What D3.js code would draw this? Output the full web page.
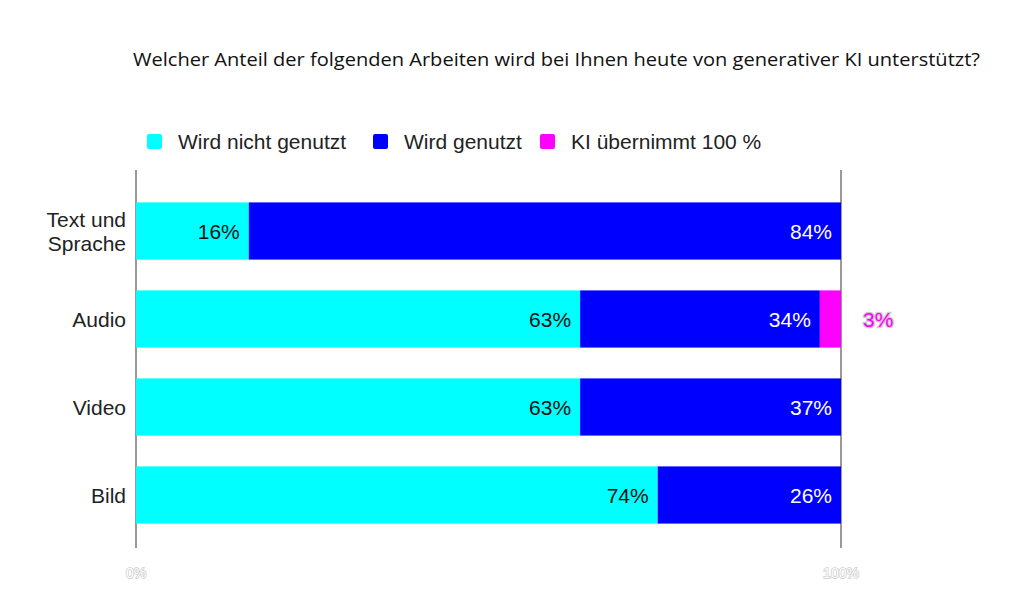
<!DOCTYPE html>
<html><head><meta charset="utf-8">
<script src="https://cdn.jsdelivr.net/npm/d3@7"></script>
<style>body{margin:0;background:#fff}</style>
</head><body>
<svg id="c" width="1010" height="607"></svg>
<script>
const categories = ["Text und Sprache", "Audio", "Video", "Bild"];
const seriesNames = ["Wird nicht genutzt", "Wird genutzt", "KI übernimmt 100 %"];
const nichtGenutzt = [16, 63, 63, 74];
const genutzt = [84, 34, 37, 26];
const kiVoll = [0, 3, 0, 0];
const tickValues = [0, 100];
const tickLabels = ["0%", "100%"];
const colors = ["#00ffff", "#0000ff", "#ff00ff"];

const svg = d3.select("#c");
const x = d3.scaleLinear().domain([0, 100]).range([136, 841]);
const y = d3.scaleBand().domain(categories).range([187, 539]).paddingInner(0.35).paddingOuter(0.175);
const F = "Liberation Sans, Arial, sans-serif";

svg.append("text").attr("x", 133).attr("y", 66)
  .attr("font-family", "Open Sans").attr("font-size", 17.5).attr("fill", "#111")
  .attr("textLength", 847).attr("lengthAdjust", "spacingAndGlyphs")
  .text("Welcher Anteil der folgenden Arbeiten wird bei Ihnen heute von generativer KI unterstützt?");

// gridlines
svg.selectAll("line.g").data(tickValues).enter().append("line")
  .attr("x1", d => x(d)).attr("x2", d => x(d)).attr("y1", 170).attr("y2", 548)
  .attr("stroke", "#999").attr("stroke-width", 2);

// legend
const legX = [147, 373, 540];
const lg = svg.selectAll("g.leg").data(seriesNames).enter().append("g")
  .attr("transform", (d, i) => `translate(${legX[i]},134)`);
lg.append("rect").attr("width", 15).attr("height", 15).attr("rx", 2).attr("fill", (d, i) => colors[i]);
lg.append("text").attr("x", 31).attr("y", 15).attr("font-family", F)
  .attr("font-size", 21).attr("fill", "#222").text(d => d);

const rows = categories.map((c, i) => ({c, v: [nichtGenutzt[i], genutzt[i], kiVoll[i]]}));
rows.forEach(r => {
  let acc = 0;
  r.v.forEach((v, k) => {
    if (v > 0) {
      svg.append("rect").attr("x", x(acc)).attr("y", y(r.c)).attr("width", x(acc + v) - x(acc))
        .attr("height", y.bandwidth()).attr("fill", colors[k]);
      if (k < 2) {
        svg.append("text").attr("x", x(acc + v) - 9).attr("y", y(r.c) + y.bandwidth() / 2 + 7.5)
          .attr("text-anchor", "end").attr("font-family", F).attr("font-size", 21)
          .attr("fill", k === 0 ? "#111" : "#fff").text(v + "%");
      } else {
        svg.append("text").attr("x", x(100) + 22).attr("y", y(r.c) + y.bandwidth() / 2 + 7.5)
          .attr("font-family", F).attr("font-size", 21)
          .attr("fill", colors[2]).attr("stroke", "#ccc").attr("stroke-width", 2.5)
          .attr("paint-order", "stroke").text(v + "%");
      }
    }
    acc += v;
  });
});

// category labels
const catLines = {"Text und Sprache": ["Text und", "Sprache"]};
categories.forEach(c => {
  const lines = catLines[c] || [c];
  const t = svg.append("text").attr("text-anchor", "end").attr("font-family", F)
    .attr("font-size", 21).attr("fill", "#222");
  const cy = y(c) + y.bandwidth() / 2;
  lines.forEach((l, i) => {
    t.append("tspan").attr("x", 126).attr("y", cy + 7.5 + (i - (lines.length - 1) / 2) * 24).text(l);
  });
});

// axis tick labels
svg.selectAll("text.tick").data(tickValues).enter().append("text")
  .attr("x", d => x(d)).attr("y", 578).attr("text-anchor", "middle")
  .attr("font-family", F).attr("font-size", 14)
  .attr("fill", "#fff").attr("stroke", "#ccc").attr("stroke-width", 1.5).attr("paint-order", "stroke")
  .text((d, i) => tickLabels[i]);
</script>
</body></html>
